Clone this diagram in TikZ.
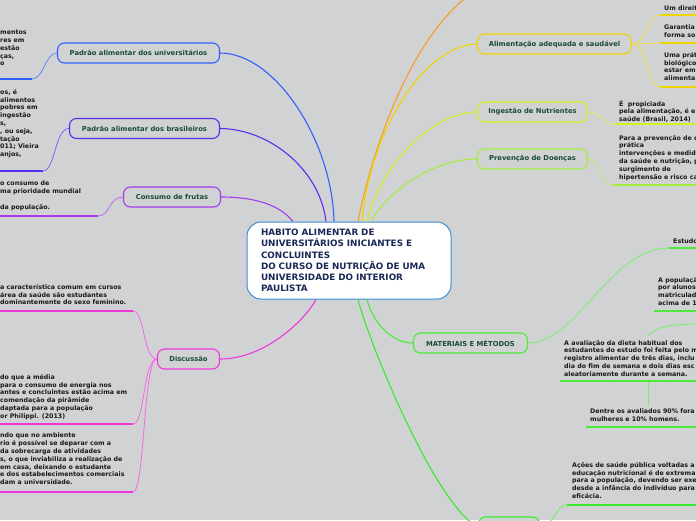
\documentclass[tikz,border=0pt]{standalone}
\usepackage{fontspec}
\newfontfamily\dv{DejaVu Sans}
\usetikzlibrary{calc}
\definecolor{bgc}{RGB}{209,210,212}
\definecolor{cU}{RGB}{48,96,255}
\definecolor{cB}{RGB}{90,45,240}
\definecolor{cF}{RGB}{165,60,235}
\definecolor{cD}{RGB}{240,55,220}
\definecolor{cO}{RGB}{245,160,35}
\definecolor{cA}{RGB}{240,212,0}
\definecolor{cI}{RGB}{212,240,30}
\definecolor{cP}{RGB}{165,238,60}
\definecolor{cM}{RGB}{75,235,55}
\definecolor{cX}{RGB}{55,235,45}
\definecolor{cC}{RGB}{60,140,215}
\definecolor{navy}{RGB}{26,40,86}
\definecolor{dkg}{RGB}{25,75,60}
\definecolor{ink}{RGB}{25,25,25}
\tikzset{
  branch/.style={draw=#1, line width=1.1pt, rounded corners=7pt, fill=bgc,
    minimum height=20pt, inner sep=0pt, text=dkg,
    font=\dv\bfseries\fontsize{6.8}{8}\selectfont},
  conn/.style={draw=#1, line width=1.1pt},
  lconn/.style={draw=#1!75!white, line width=0.8pt},
  uline/.style={draw=#1, line width=2.3pt},
  leaf/.style={font=\dv\bfseries\fontsize{6.3}{7.8}\selectfont, text=ink,
    align=left, inner sep=0pt, anchor=north west}
}
\begin{document}
\begin{tikzpicture}[x=1pt,y=-1pt]
\useasboundingbox (0,0) rectangle (696,520);
\fill[bgc] (0,0) rectangle (696,520);
\clip (0,0) rectangle (696,520);

% central node
\node[draw=cC, line width=1pt, fill=white, rounded corners=14pt,
  minimum width=204pt, minimum height=77pt, text width=176pt,
  inner xsep=14pt, inner ysep=4pt, align=left, text=navy,
  font=\dv\bfseries\fontsize{8.8}{11.2}\selectfont] (C) at (349,260.5)
  {HABITO ALIMENTAR DE\\UNIVERSITÁRIOS INICIANTES E\\CONCLUINTES\\DO CURSO DE NUTRIÇÃO DE UMA\\UNIVERSIDADE DO INTERIOR\\PAULISTA};

% branch nodes
\node[branch=cU, minimum width=162pt] (U) at (138.5,53) {Padrão alimentar dos universitários};
\node[branch=cB, minimum width=150pt] (B) at (144.5,128.5) {Padrão alimentar dos brasileiros};
\node[branch=cF, minimum width=97pt] (F) at (172,197) {Consumo de frutas};
\node[branch=cD, minimum width=62pt] (D) at (188.5,359) {Discussão};
\node[branch=cA, minimum width=154pt] (A) at (554.5,44) {Alimentação adequada e saudável};
\node[branch=cI, minimum width=110pt] (I) at (532.5,112) {Ingestão de Nutrientes};
\node[branch=cP, minimum width=110pt] (P) at (532.5,159) {Prevenção de Doenças};
\node[branch=cM, minimum width=114pt] (M) at (470.5,343) {MATERIAIS E MÉTODOS};
\node[branch=cX, minimum width=61pt] (X) at (509,527) {};

% central connectors
\coordinate (oEnd) at (468,-4);
\draw[conn=cU] (U.east) .. controls (275,53) and (332,140) .. ($(C.north)+(-15,0)$);
\draw[conn=cB] (B.east) .. controls (270,129) and (320,170) .. ($(C.north)+(-23,0)$);
\draw[conn=cF] (F.east) .. controls (255,197) and (280,205) .. ($(C.north)+(-56,0)$);
\draw[conn=cD] (D.east) .. controls (265,359) and (305,320) .. ($(C.south)+(-33,0)$);
\draw[conn=cO] (oEnd) .. controls (410,40) and (372,150) .. ($(C.north)+(9,0)$);
\draw[conn=cA] (A.west) .. controls (430,44) and (372,120) .. ($(C.north)+(13,0)$);
\draw[conn=cI] (I.west) .. controls (430,112) and (378,170) .. ($(C.north)+(18,0)$);
\draw[conn=cP] (P.west) .. controls (430,159) and (385,195) .. ($(C.north)+(22,0)$);
\draw[conn=cM] (M.west) .. controls (390,343) and (372,320) .. ($(C.south)+(18,0)$);
\draw[conn=cX] (X.west) .. controls (435,505) and (368,340) .. ($(C.south)+(9,0)$);

% leaf underline ends
\coordinate (lu1) at (32,79);   \coordinate (lu1e) at (-3,79);
\coordinate (lu2) at (43,171);  \coordinate (lu2e) at (-3,171);
\coordinate (lu3) at (98,216);  \coordinate (lu3e) at (-3,216);
\coordinate (lu4) at (133,311); \coordinate (lu4e) at (-3,311);
\coordinate (lu5) at (133,424); \coordinate (lu5e) at (-3,424);
\coordinate (lu6) at (133,492); \coordinate (lu6e) at (-3,492);
\coordinate (ru1) at (660,15);  \coordinate (ru1e) at (700,15);
\coordinate (ru2) at (660,43);  \coordinate (ru2e) at (700,43);
\coordinate (ru3) at (660,87);  \coordinate (ru3e) at (700,87);
\coordinate (ru4) at (615,124); \coordinate (ru4e) at (700,124);
\coordinate (ru5) at (613,185); \coordinate (ru5e) at (700,185);
\coordinate (ru6) at (669,248); \coordinate (ru6e) at (700,248);
\coordinate (ru7) at (654,311); \coordinate (ru7e) at (700,311);
\coordinate (ru8) at (560,381); \coordinate (ru8e) at (700,381);
\coordinate (ru9) at (586,427); \coordinate (ru9e) at (700,427);
\coordinate (ru10) at (567,505); \coordinate (ru10e) at (700,505);
\coordinate (g1) at (648,336); \coordinate (g1e) at (700,324);
\coordinate (g2) at (648,381); \coordinate (g2e) at (648,406);

% leaf connectors
\draw[lconn=cU] (U.west) .. controls +(-12,0) and +(12,0) .. (lu1);
\draw[lconn=cB] (B.west) .. controls +(-14,0) and +(12,0) .. (lu2);
\draw[lconn=cF] (F.west) .. controls +(-14,0) and +(12,0) .. (lu3);
\draw[lconn=cD] (D.west) .. controls +(-14,0) and +(12,0) .. (lu4);
\draw[lconn=cD] (D.west) .. controls +(-14,0) and +(12,0) .. (lu5);
\draw[lconn=cD] (D.west) .. controls +(-14,0) and +(12,0) .. (lu6);
\draw[lconn=cA] (A.east) .. controls +(16,0) and +(-14,0) .. (ru1);
\draw[lconn=cA] (A.east) .. controls +(16,0) and +(-14,0) .. (ru2);
\draw[lconn=cA] (A.east) .. controls +(16,0) and +(-14,0) .. (ru3);
\draw[lconn=cI] (I.east) .. controls +(14,0) and +(-14,0) .. (ru4);
\draw[lconn=cP] (P.east) .. controls +(14,0) and +(-14,0) .. (ru5);
\draw[lconn=cM] (M.east) .. controls +(50,0) and +(-60,0) .. (ru6);
\draw[lconn=cM] (g1) .. controls +(8,-10) and +(-25,0) .. (g1e);
\draw[lconn=cM] (g2) -- (g2e);
\draw[lconn=cX] (X.east) .. controls +(14,0) and +(-12,0) .. (ru10);

% underlines
\draw[uline=cU] (lu1) -- (lu1e);
\draw[uline=cB] (lu2) -- (lu2e);
\draw[uline=cF] (lu3) -- (lu3e);
\draw[uline=cD] (lu4) -- (lu4e);
\draw[uline=cD] (lu5) -- (lu5e);
\draw[uline=cD] (lu6) -- (lu6e);
\draw[uline=cA] (ru1) -- (ru1e);
\draw[uline=cA] (ru2) -- (ru2e);
\draw[uline=cA] (ru3) -- (ru3e);
\draw[uline=cI] (ru4) -- (ru4e);
\draw[uline=cP] (ru5) -- (ru5e);
\draw[uline=cM] (ru6) -- (ru6e);
\draw[uline=cM] (ru7) -- (ru7e);
\draw[uline=cM] (ru8) -- (ru8e);
\draw[uline=cM] (ru9) -- (ru9e);
\draw[uline=cX] (ru10) -- (ru10e);

% leaf texts
\node[leaf] (t1) at (0,30) {mentos\\res em\\estão\\ças,\\o};
\node[leaf] (t2) at (0,89) {os, é\\alimentos\\pobres em\\ingestão\\s,\\, ou seja,\\tação\\011; Vieira\\anjos,};
\node[leaf] (t3) at (0,181) {o consumo de\\ma prioridade mundial\\[7.8pt]da população.};
\node[leaf] (t4) at (0,284) {a característica comum em cursos\\área da saúde são estudantes\\dominantemente do sexo feminino.};
\node[leaf] (t5) at (0,374) {do que a média\\para o consumo de energia nos\\antes e concluintes estão acima em\\comendação da pirâmide\\daptada para a população\\or Philippi. (2013)};
\node[leaf] (t6) at (0,433) {ndo que no ambiente\\rio é possível se deparar com a\\da sobrecarga de atividades\\s, o que inviabiliza a realização de\\em casa, deixando o estudante\\e dos estabelecimentos comerciais\\dam a universidade.};
\node[leaf] (t7) at (664,6) {Um direito};
\node[leaf] (t8) at (664,25) {Garantia\\forma so};
\node[leaf] (t9) at (664,52) {Uma prát\\biológico\\estar em\\alimenta};
\node[leaf] (t10) at (619,100) {É~~propiciada\\pela alimentação, é e\\saúde (Brasil, 2014)};
\node[leaf] (t11) at (619,135) {Para a prevenção de d\\prática\\intervenções e medid\\da saúde e nutrição, p\\surgimento de\\hipertensão e risco ca};
\node[leaf] (t12) at (673,239) {Estudo};
\node[leaf] (t13) at (658,277) {A populaçã\\por alunos\\matriculad\\acima de 1};
\node[leaf] (t14) at (564,340) {A avaliação da dieta habitual dos\\estudantes do estudo foi feita pelo m\\registro alimentar de três dias, inclu\\dia do fim de semana e dois dias esc\\aleatoriamente durante a semana.};
\node[leaf] (t15) at (590,409) {Dentre os avaliados 90\% fora\\mulheres e 10\% homens.};
\node[leaf] (t16) at (572,462) {Ações de saúde pública voltadas a\\educação nutricional é de extrema\\para a população, devendo ser exe\\desde a infância do indivíduo para\\eficácia.};
\end{tikzpicture}
\end{document}
